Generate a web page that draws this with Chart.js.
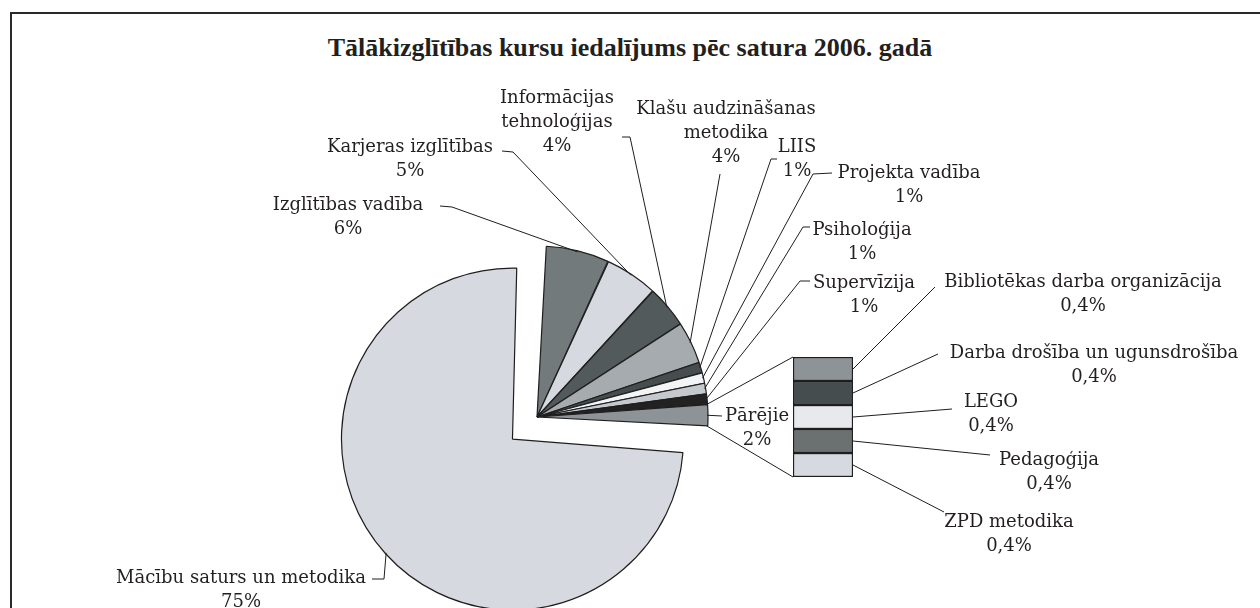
<!DOCTYPE html>
<html lang="lv">
<head>
<meta charset="utf-8">
<title>Tālākizglītības kursi 2006</title>
<script src="https://cdn.jsdelivr.net/npm/chart.js@4.4.0/dist/chart.umd.min.js"></script>
<style>
  html, body { margin: 0; padding: 0; background: #fff; overflow: hidden; }
  #wrap { position: relative; width: 1260px; height: 608px; overflow: hidden; }
  #frame { position: absolute; left: 10px; top: 12px; width: 1300px; height: 700px;
           border-top: 2px solid #2a2a2a; border-left: 2px solid #2a2a2a; }
  #title { position: absolute; left: 0; top: 33px; width: 1260px; text-align: center;
           font: bold 26px "Liberation Serif", serif; color: #231f20; }
  canvas { position: absolute; left: 0; top: 0; }
</style>
</head>
<body>
<div id="wrap">
  <div id="frame"></div>
  <div id="title">Tālākizglītības kursu iedalījums pēc satura 2006. gadā</div>
  <canvas id="pie" width="1260" height="608"></canvas>
  <canvas id="bar" width="1260" height="608"></canvas>
</div>
<script>
// dati
const kategorijas = ['Mācību saturs un metodika', 'Izglītības vadība', 'Karjeras izglītības',
    'Informācijas tehnoloģijas', 'Klašu audzināšanas metodika', 'LIIS', 'Projekta vadība',
    'Psiholoģija', 'Supervīzija', 'Pārējie']
const procenti = [75, 6, 5, 4, 4, 1, 1, 1, 1, 2]

const parejieKategorijas = ['Bibliotēkas darba organizācija', 'Darba drošība un ugunsdrošība',
    'LEGO', 'Pedagoģija', 'ZPD metodika']
const parejieProcenti = [0.4, 0.4, 0.4, 0.4, 0.4]

// krāsas
const pieKrasas = ['#d6d9df', '#727a7b', '#d6d9df', '#525a5c', '#a6abb0',
    '#454d4f', '#f3f4f6', '#c5c9ce', '#222222', '#8e9397']
const stabaKrasas = ['#8e9397', '#454d4f', '#e8e9ec', '#6b7071', '#d6d9df']

// etiķešu izvietojums (teksta centrs, līnijas sākums pie teksta, līnijas lūzums)
const pieEtiketes = [
    {x: 241, y: 578, sak: [372, 579], mezgls: [384, 579]},
    {x: 348, y: 205, sak: [440, 206], mezgls: [452, 207]},
    {x: 410, y: 147, sak: [502, 151], mezgls: [513, 152]},
    {x: 557, y: 98, wrap: 150, sak: [622, 137], mezgls: [630, 137]},
    {x: 726, y: 109, wrap: 190, sak: [720, 174], mezgls: [720, 174]},
    {x: 797, y: 147, sak: [777, 159], mezgls: [771, 159]},
    {x: 909, y: 173, sak: [832, 173], mezgls: [813, 174]},
    {x: 862, y: 230, sak: [810, 227], mezgls: [803, 227]},
    {x: 864, y: 283, sak: [810, 281], mezgls: [800, 281]},
    {x: 757, y: 416, sak: [722, 416], mezgls: [722, 416]}
]
const stabaEtiketes = [
    {x: 1083, y: 282, sak: [935, 287]},
    {x: 1094, y: 353, sak: [938, 354]},
    {x: 991, y: 402, sak: [952, 409]},
    {x: 1049, y: 460, sak: [990, 455]},
    {x: 1009, y: 522, sak: [944, 512]}
]

const FONTS = '18px "DejaVu Serif", serif'
const TEKSTS = '#231f20'
const LINIJA = '#1e1e1e'

function formatProc(v) {
    return String(v).replace('.', ',') + '%'
}

function sadalit(ctx, teksts, wrap) {
    if (!wrap) return [teksts]
    const vardi = teksts.split(' ')
    const rindas = []
    let rinda = ''
    vardi.forEach(v => {
        const test = rinda ? rinda + ' ' + v : v
        if (rinda && ctx.measureText(test).width > wrap) {
            rindas.push(rinda)
            rinda = v
        } else {
            rinda = test
        }
    })
    rindas.push(rinda)
    return rindas
}

function zimetTekstu(ctx, rindas, x, y) {
    ctx.save()
    ctx.font = FONTS
    ctx.fillStyle = TEKSTS
    ctx.textAlign = 'center'
    ctx.textBaseline = 'middle'
    rindas.forEach((r, i) => ctx.fillText(r, x, y + i * 24))
    ctx.restore()
}

function vilktLiniju(ctx, punkti) {
    ctx.save()
    ctx.strokeStyle = LINIJA
    ctx.lineWidth = 1
    ctx.beginPath()
    ctx.moveTo(punkti[0][0], punkti[0][1])
    for (let i = 1; i < punkti.length; i++) ctx.lineTo(punkti[i][0], punkti[i][1])
    ctx.stroke()
    ctx.restore()
}

function lokaPunkts(arc, lenkis) {
    return [arc.x + Math.cos(lenkis) * arc.outerRadius, arc.y + Math.sin(lenkis) * arc.outerRadius]
}

// izvirzīt sektoru pa tā vidus leņķi
const eksplozija = {
    id: 'eksplozija',
    afterDatasetsUpdate(chart, args, opts) {
        const meta = chart.getDatasetMeta(0)
        meta.data.forEach((arc, i) => {
            const d = (opts.attalumi || [])[i] || 0
            if (!d) return
            const mid = (arc.startAngle + arc.endAngle) / 2
            arc.x += Math.cos(mid) * d
            arc.y += Math.sin(mid) * d
        })
    }
}

const pieEtikesuPlugin = {
    id: 'pieEtiketes',
    afterDraw(chart) {
        const ctx = chart.ctx
        const meta = chart.getDatasetMeta(0)
        ctx.font = FONTS
        meta.data.forEach((arc, i) => {
            const e = pieEtiketes[i]
            const mid = (arc.startAngle + arc.endAngle) / 2
            vilktLiniju(ctx, [lokaPunkts(arc, mid), e.mezgls, e.sak])
            const rindas = sadalit(ctx, kategorijas[i], e.wrap)
            rindas.push(formatProc(procenti[i]))
            zimetTekstu(ctx, rindas, e.x, e.y)
        })
    }
}

const pieChart = new Chart(document.getElementById('pie'), {
    type: 'pie',
    data: {
        labels: kategorijas,
        datasets: [{
            data: procenti,
            backgroundColor: pieKrasas,
            borderColor: LINIJA,
            borderWidth: 1.2,
            spacing: 2
        }]
    },
    options: {
        responsive: false,
        animation: false,
        events: [],
        rotation: 93,
        radius: 170,
        layout: { padding: { left: 367, right: 553, top: 247, bottom: 21 } },
        plugins: {
            legend: { display: false },
            tooltip: { enabled: false },
            eksplozija: { attalumi: [33, 0, 0, 0, 0, 0, 0, 0, 0, 0] }
        }
    },
    plugins: [eksplozija, pieEtikesuPlugin]
})

const stabaEtikesuPlugin = {
    id: 'stabaEtiketes',
    afterDraw(chart) {
        const ctx = chart.ctx
        // savienojums ar "Pārējie" sektoru
        const parejie = pieChart.getDatasetMeta(0).data[kategorijas.length - 1]
        const pirmais = chart.getDatasetMeta(0).data[0]
        const pedejais = chart.getDatasetMeta(parejieProcenti.length - 1).data[0]
        const kreisais = pirmais.x - pirmais.width / 2
        vilktLiniju(ctx, [lokaPunkts(parejie, parejie.startAngle), [kreisais, Math.min(pirmais.y, pirmais.base)]])
        vilktLiniju(ctx, [lokaPunkts(parejie, parejie.endAngle), [kreisais, Math.max(pedejais.y, pedejais.base)]])

        parejieKategorijas.forEach((k, i) => {
            const bar = chart.getDatasetMeta(i).data[0]
            const e = stabaEtiketes[i]
            vilktLiniju(ctx, [[bar.x + bar.width / 2, (bar.y + bar.base) / 2], e.sak])
            zimetTekstu(ctx, [k, formatProc(parejieProcenti[i])], e.x, e.y)
        })
    }
}

const parejieKopa = parejieProcenti.reduce((a, b) => a + b, 0)

new Chart(document.getElementById('bar'), {
    type: 'bar',
    data: {
        labels: ['Pārējie'],
        datasets: parejieKategorijas.map((k, i) => ({
            label: k,
            data: [parejieProcenti[i]],
            backgroundColor: stabaKrasas[i],
            borderColor: LINIJA,
            borderWidth: 1.5,
            borderSkipped: false
        }))
    },
    options: {
        responsive: false,
        animation: false,
        events: [],
        layout: { padding: { left: 793, right: 407, top: 357, bottom: 131 } },
        datasets: { bar: { barPercentage: 1, categoryPercentage: 1 } },
        scales: {
            x: { stacked: true, display: false },
            y: { stacked: true, display: false, reverse: true, min: 0, max: parejieKopa }
        },
        plugins: {
            legend: { display: false },
            tooltip: { enabled: false }
        }
    },
    plugins: [stabaEtikesuPlugin]
})
</script>
</body>
</html>
